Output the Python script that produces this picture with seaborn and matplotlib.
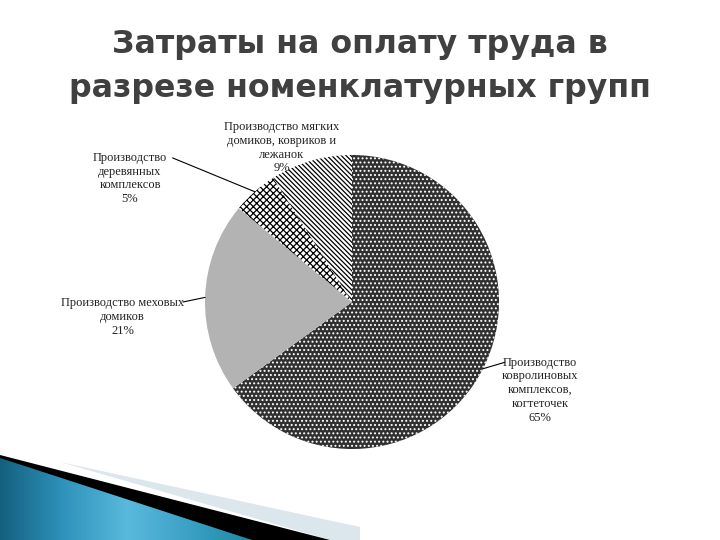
import matplotlib.pyplot as plt
import numpy as np
import seaborn as sns
from matplotlib.colors import LinearSegmentedColormap
from matplotlib.patches import Polygon

# data
categories = [
    "Производство\nковролиновых\nкомплексов,\nкогтеточек",
    "Производство меховых\nдомиков",
    "Производство\nдеревянных\nкомплексов",
    "Производство мягких\nдомиков, ковриков и\nлежанок",
]
shares = [65, 21, 5, 9]
title_lines = ["Затраты на оплату труда в", "разрезе номенклатурных групп"]

# looks per slice: face, hatch, hatch colour
looks = [
    ("#303030", "....", "white"),
    ("#b3b3b3", "", "#b3b3b3"),
    ("white", "xxxxx", "black"),
    ("white", "\\\\\\\\\\\\\\", "black"),
]
# label text centre and leader start (pie units), None = no leader
label_pos = [(1.28, -0.60), (-1.56, -0.10), (-1.51, 0.84), (-0.48, 1.05)]
leader_from = [(1.04, -0.41), (-1.15, 0.0), (-1.22, 0.98), None]

sns.set_theme(style="white")
plt.rcParams["font.family"] = ["DejaVu Sans"]
plt.rcParams["hatch.linewidth"] = 0.9

fig = plt.figure(figsize=(7.2, 5.4), dpi=100)
fig.patch.set_facecolor("white")

# slide decoration, bottom-left corner (pixel coords)
bg = fig.add_axes([0, 0, 1, 1], zorder=0)
bg.axis("off")
bg.add_patch(Polygon([(60, 462), (360, 527), (360, 540), (330, 540)],
                     closed=True, color="#dce7ed", lw=0, zorder=1))
bg.add_patch(Polygon([(0, 455), (330, 540), (0, 540)], closed=True,
                     color="black", lw=0, zorder=2))
blue_poly = Polygon([(0, 458), (252, 540), (0, 540)], closed=True,
                    facecolor="none", lw=0, zorder=3)
bg.add_patch(blue_poly)
blue_cmap = LinearSegmentedColormap.from_list(
    "slide", ["#14607f", "#2f93bb", "#5ab9dc", "#3aa0c4", "#1f86a6"])
grad = np.linspace(0, 1, 256).reshape(1, -1)
img = bg.imshow(grad, extent=[0, 255, 540, 455], cmap=blue_cmap,
                aspect="auto", zorder=4)
img.set_clip_path(blue_poly)
bg.set_xlim(0, 720)
bg.set_ylim(540, 0)

# title
for i, line in enumerate(title_lines):
    fig.text(0.5, 1 - (44 + 44 * i) / 540, line, ha="center", va="center",
             fontsize=22.8, fontweight="bold", color="#404040")

# pie
ax = fig.add_axes([(352 - 147) / 720, 1 - (302 + 147) / 540,
                   294 / 720, 294 / 540], zorder=2)
wedges, _ = ax.pie(shares, startangle=90, counterclock=False, radius=1)
ax.set_xlim(-1, 1)
ax.set_ylim(-1, 1)

for w, (face, hatch, hc) in zip(wedges, looks):
    w.set_facecolor(face)
    w.set_edgecolor(hc)
    w.set_linewidth(0)
    if hatch:
        w.set_hatch(hatch)

for w, name, val, pos, start in zip(wedges, categories, shares,
                                    label_pos, leader_from):
    mid = np.deg2rad((w.theta1 + w.theta2) / 2)
    edge = (np.cos(mid), np.sin(mid))
    ax.text(pos[0], pos[1], f"{name}\n{val}%", ha="center", va="center",
            fontsize=9, family=["Liberation Serif", "DejaVu Serif"],
            color="#222222", linespacing=1.2)
    if start is not None:
        ax.plot([start[0], edge[0]], [start[1], edge[1]], color="black",
                lw=0.8, clip_on=False)

fig.savefig("out.png", dpi=100, facecolor="white")
